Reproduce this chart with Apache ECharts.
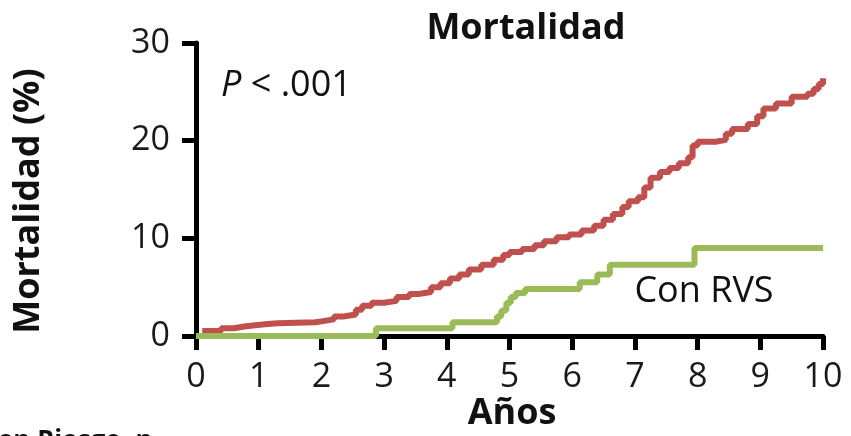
<!DOCTYPE html>
<html><head><meta charset="utf-8">
<script src="https://cdn.jsdelivr.net/npm/echarts@6/dist/echarts.min.js"></script>
<style>html,body{margin:0;padding:0;background:#fff}#c{width:851px;height:436px}</style>
</head><body><div id="c"></div>
<script>
// Tick values
const xTicks = [0,1,2,3,4,5,6,7,8,9,10];
const yTicks = [0,10,20,30];

// Red curve (no label in figure)
const redYears = [0.1,0.4,0.6,0.8,1.1,1.3,1.9,2.0,2.2,2.35,2.55,2.65,2.8,3.0,3.2,3.4,3.55,3.75,3.9,4.05,4.2,4.35,4.55,4.75,4.9,5.0,5.2,5.4,5.55,5.75,5.95,6.15,6.35,6.5,6.65,6.8,6.9,7.05,7.15,7.25,7.4,7.55,7.7,7.85,7.92,8.0,8.3,8.45,8.55,8.8,8.95,9.05,9.25,9.5,9.75,9.85,9.93,10.0];
const redValues = [0.5,0.8,1.0,1.2,1.3,1.4,1.5,1.7,2.0,2.2,2.7,3.1,3.4,3.6,4.0,4.3,4.5,5.0,5.4,5.9,6.3,6.8,7.3,7.8,8.3,8.6,8.9,9.3,9.7,10.1,10.4,10.8,11.3,11.9,12.5,13.2,13.8,14.2,15.2,16.2,16.8,17.2,17.7,18.3,19.5,19.9,20.1,20.7,21.2,21.7,22.5,23.3,23.8,24.5,24.8,25.3,25.8,26.4];

// Green curve "Con RVS"
const greenYears = [0,2.87,4.09,4.8,4.87,4.95,5.02,5.1,5.25,6.12,6.4,6.6,7.95,10.0];
const greenValues = [0,0.8,1.4,2.0,2.6,3.4,4.0,4.4,4.8,5.5,6.3,7.3,9.0,9.0];

const titleText = 'Mortalidad';
const yName = 'Mortalidad (%)';
const xName = 'Años';
const pText = '{i|P} < .001';
const greenLabel = 'Con RVS';
const footText = 'en Riesgo, n';

const pair = (xs, ys) => xs.map((x, i) => [x, ys[i]]);
const FONT = '"Open Sans", "Liberation Sans", sans-serif';

const chart = echarts.init(document.getElementById('c'), null, {renderer: 'canvas'});
chart.setOption({
  animation: false,
  backgroundColor: '#ffffff',
  grid: {left: 196, right: 28, top: 43, bottom: 100, containLabel: false},
  xAxis: {
    type: 'value', min: xTicks[0], max: xTicks[xTicks.length - 1], interval: 1,
    axisLine: {show: true, onZero: false, lineStyle: {color: '#000', width: 5}},
    axisTick: {show: true, inside: false, length: 14, lineStyle: {color: '#000', width: 5}},
    axisLabel: {color: '#1a1a1a', fontSize: 34, fontFamily: FONT, margin: 24},
    splitLine: {show: false}
  },
  yAxis: {
    type: 'value', min: yTicks[0], max: yTicks[yTicks.length - 1], interval: 10,
    axisLine: {show: true, onZero: false, lineStyle: {color: '#000', width: 5}},
    axisTick: {show: true, inside: false, length: 14, lineStyle: {color: '#000', width: 5}},
    axisLabel: {color: '#1a1a1a', fontSize: 34, fontFamily: FONT, margin: 26},
    splitLine: {show: false}
  },
  series: [
    {
      name: 'Sin RVS', type: 'line', step: 'end', showSymbol: false, clip: false,
      data: pair(redYears, redValues),
      lineStyle: {color: '#C0504D', width: 6}, z: 3
    },
    {
      name: greenLabel, type: 'line', step: 'end', showSymbol: false, clip: false,
      data: pair(greenYears, greenValues),
      lineStyle: {color: '#9BBB59', width: 6}, z: 4
    }
  ],
  graphic: [
    {type: 'text', x: 526, y: 29, style: {text: titleText, font: 'bold 36px ' + FONT, fill: '#111', align: 'center', verticalAlign: 'middle'}},
    {type: 'text', x: 29, y: 201, rotation: Math.PI / 2, style: {text: yName, font: 'bold 36px ' + FONT, fill: '#111', align: 'center', verticalAlign: 'middle'}},
    {type: 'text', x: 512, y: 414, style: {text: xName, font: 'bold 36px ' + FONT, fill: '#111', align: 'center', verticalAlign: 'middle'}},
    {type: 'text', x: 221, y: 86, style: {text: pText, font: '36px ' + FONT, fill: '#111', align: 'left', verticalAlign: 'middle', rich: {i: {fontStyle: 'italic', fontSize: 36, fontFamily: FONT, fill: '#111'}}}},
    {type: 'text', x: 704, y: 292, style: {text: greenLabel, font: '36px ' + FONT, fill: '#111', align: 'center', verticalAlign: 'middle'}},
    {type: 'text', x: -2, y: 429, style: {text: footText, font: 'bold 26px ' + FONT, fill: '#111', align: 'left', verticalAlign: 'top'}}
  ]
});
</script>
</body></html>
